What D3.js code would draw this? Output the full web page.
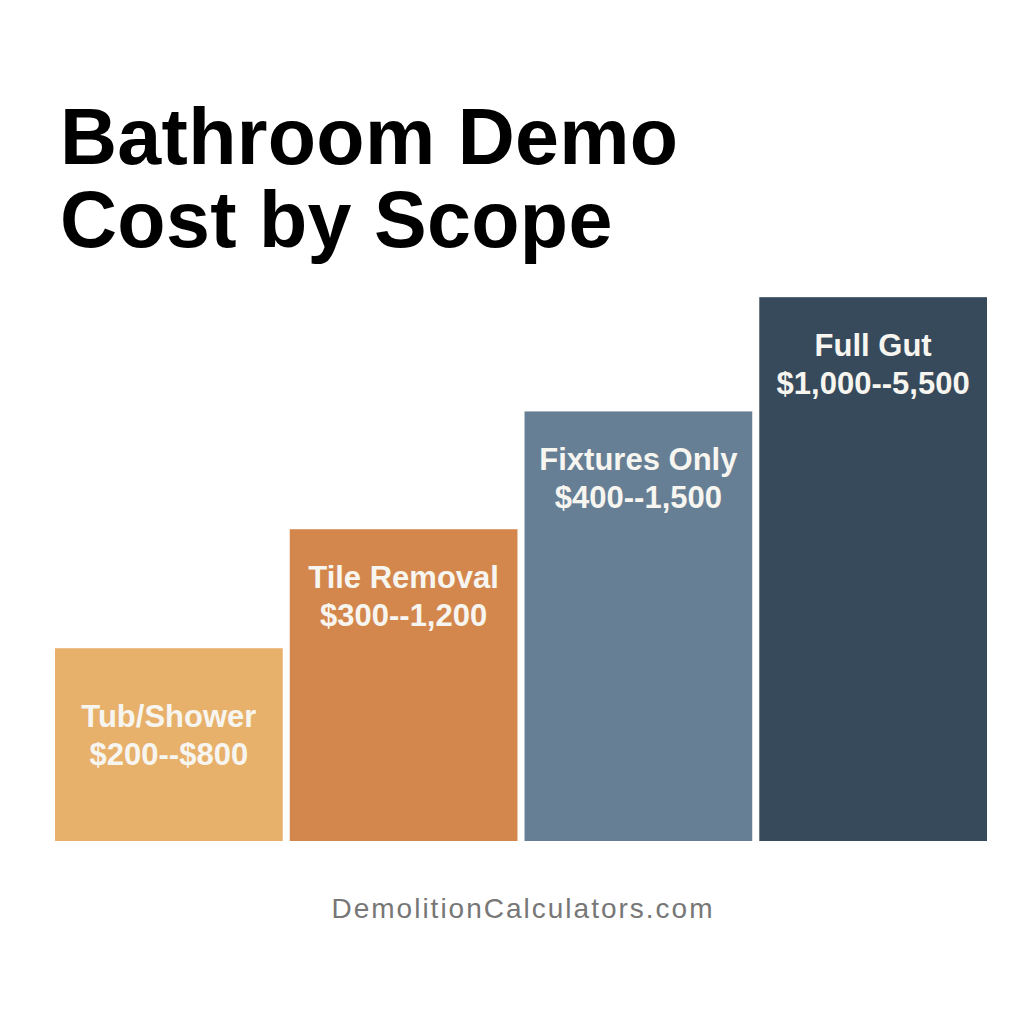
<!DOCTYPE html>
<html>
<head>
<meta charset="utf-8">
<script src="https://cdn.jsdelivr.net/npm/d3@7"></script>
<style>
  html, body { margin: 0; padding: 0; background: #ffffff; }
  svg { display: block; }
</style>
</head>
<body>
<svg id="chart" width="1024" height="1024"></svg>
<script>
// ---- data ----
const titleLines = ["Bathroom Demo", "Cost by Scope"];
const categories = ["Tub/Shower", "Tile Removal", "Fixtures Only", "Full Gut"];
const rangeLabels = ["$200--$800", "$300--1,200", "$400--1,500", "$1,000--5,500"];
const barLevels = [1.62, 2.62, 3.61, 4.57];   // relative bar height (scope index)
const barColors = ["#E8B16B", "#D4874C", "#667F95", "#364A5B"];
const footerText = "DemolitionCalculators.com";

// ---- layout ----
const W = 1024, H = 1024;
const svg = d3.select("#chart");
svg.append("rect").attr("width", W).attr("height", H).attr("fill", "#ffffff");

const baseY = 841;
const x = d3.scaleBand().domain(categories).range([55, 987]).paddingInner(0.03).paddingOuter(0);
const y = d3.scaleLinear().domain([0, 5]).range([baseY, baseY - 595]);

// title
svg.append("g").selectAll("text").data(titleLines).join("text")
  .attr("x", 60)
  .attr("y", (d, i) => 164 + i * 83)
  .attr("font-family", "'Liberation Sans', Arial, sans-serif")
  .attr("font-weight", "bold")
  .attr("font-size", 79)
  .attr("letter-spacing", 0.3)
  .attr("fill", "#000000")
  .text(d => d);

// bars
const data = categories.map((c, i) => ({ c, r: rangeLabels[i], v: barLevels[i], col: barColors[i] }));
const g = svg.append("g");
g.selectAll("rect").data(data).join("rect")
  .attr("x", d => x(d.c))
  .attr("y", d => y(d.v))
  .attr("width", x.bandwidth())
  .attr("height", d => baseY - y(d.v))
  .attr("fill", d => d.col);

// labels
const lab = g.selectAll("g.lab").data(data).join("g").attr("class", "lab");
function labelBase(d) {
  const top = y(d.v), h = baseY - top;
  return h < 250 ? top + h / 2 - 18 : top + 59;
}
lab.append("text")
  .attr("x", d => x(d.c) + x.bandwidth() / 2)
  .attr("y", d => labelBase(d))
  .attr("text-anchor", "middle")
  .attr("font-family", "'Liberation Sans', Arial, sans-serif")
  .attr("font-weight", "bold")
  .attr("font-size", 31)
  .attr("fill", "#f7f5f0")
  .text(d => d.c);
lab.append("text")
  .attr("x", d => x(d.c) + x.bandwidth() / 2)
  .attr("y", d => labelBase(d) + 38)
  .attr("text-anchor", "middle")
  .attr("font-family", "'Liberation Sans', Arial, sans-serif")
  .attr("font-weight", "bold")
  .attr("font-size", 31)
  .attr("fill", "#f7f5f0")
  .text(d => d.r);

// footer
svg.append("text")
  .attr("x", 523)
  .attr("y", 918)
  .attr("text-anchor", "middle")
  .attr("font-family", "'Liberation Sans', Arial, sans-serif")
  .attr("font-size", 28)
  .attr("letter-spacing", 2.0)
  .attr("fill", "#777777")
  .text(footerText);
</script>
</body>
</html>
